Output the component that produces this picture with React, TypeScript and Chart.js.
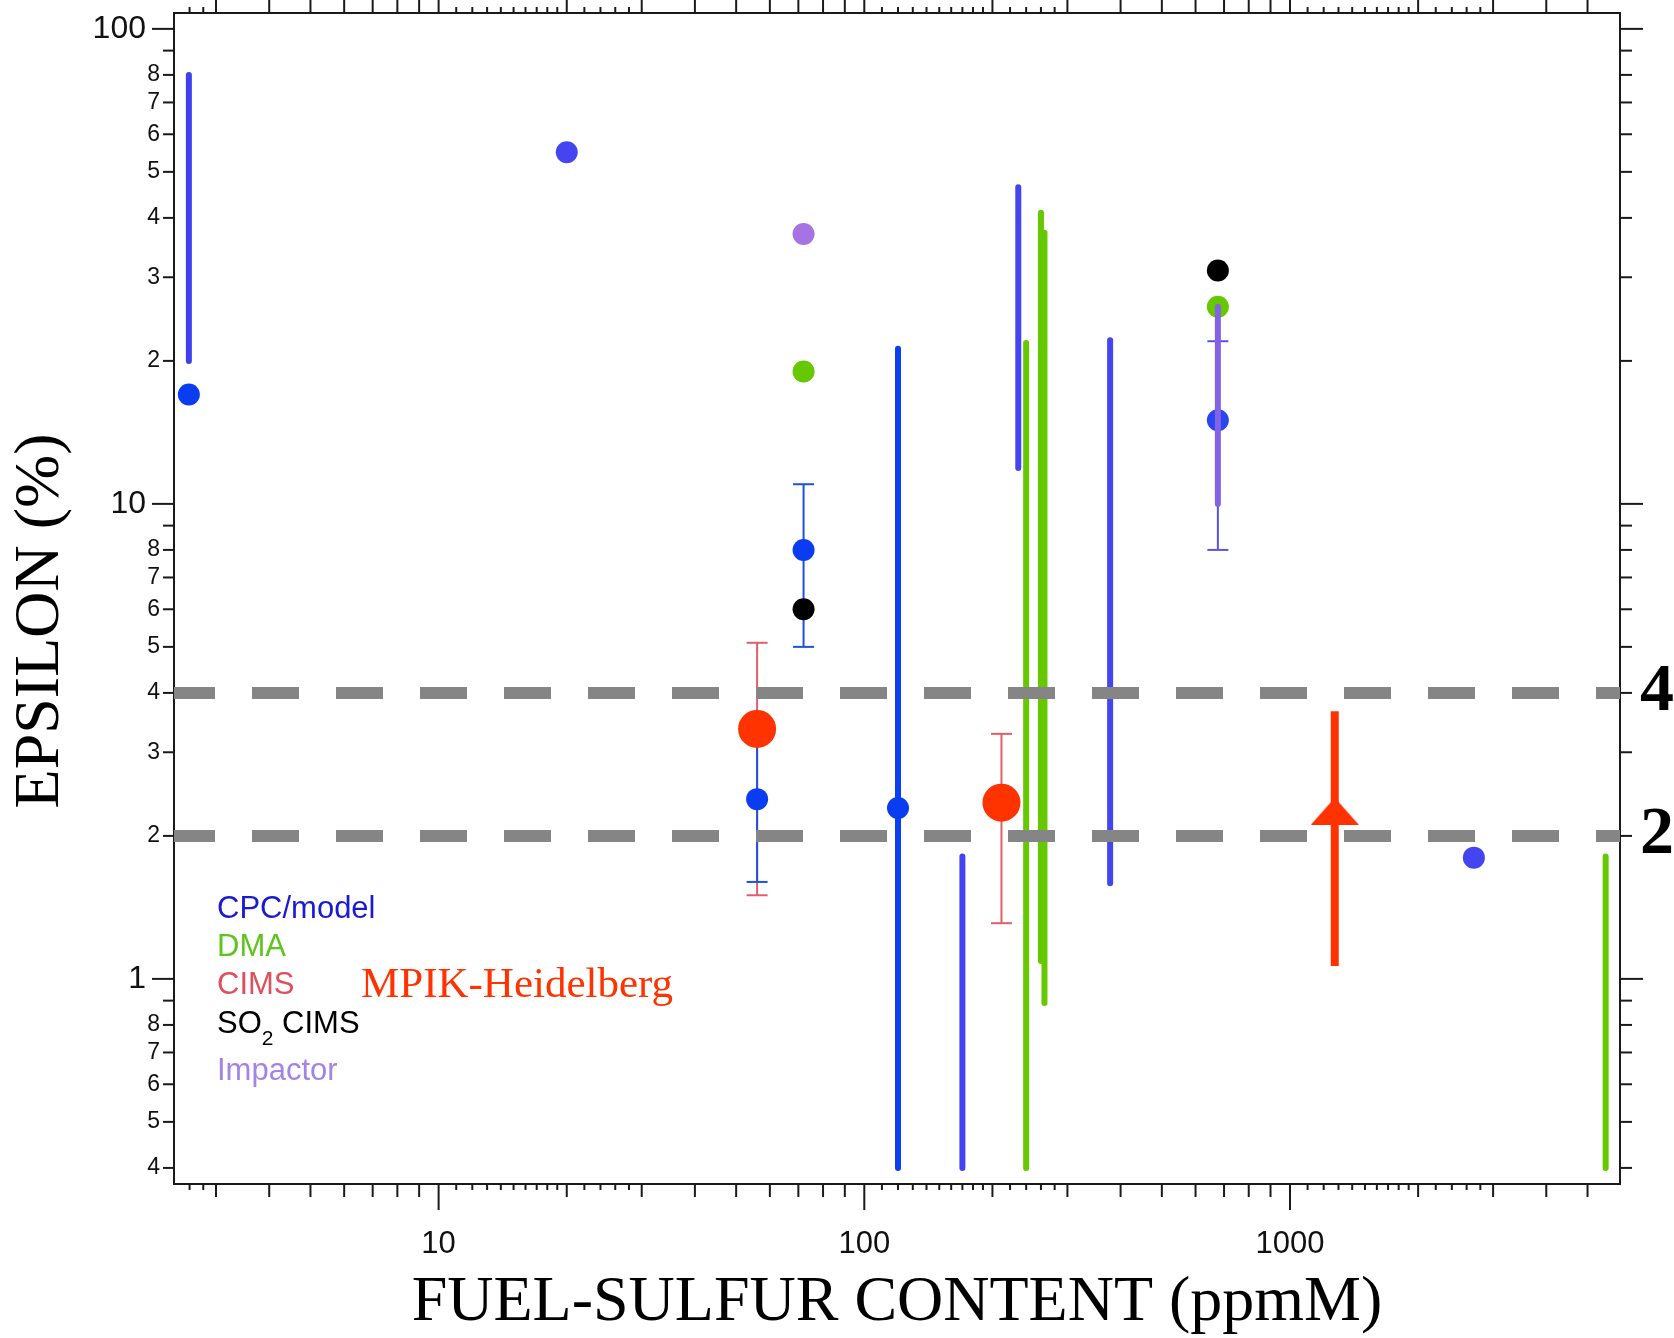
import React, { useEffect, useRef } from 'react';
import { Chart, registerables } from 'chart.js';

Chart.register(...registerables);
Chart.defaults.font.family = 'Liberation Sans';

// ---- axis ranges ----
const X_MIN = 2.39;
const X_MAX = 5960;
const Y_MIN = 0.37;
const Y_MAX = 108;

// ---- tick values / labels ----
const xMajorTicks = [10, 100, 1000];
const xMinorTicks = [3, 4, 5, 6, 7, 8, 9, 20, 30, 40, 50, 60, 70, 80, 90, 200, 300, 400, 500, 600, 700, 800, 900, 2000, 3000, 4000, 5000];
const xSmallTicks = [2.6, 2.8, 11, 12, 13, 14, 15, 16, 17, 18, 19, 22, 24, 26, 28, 110, 120, 130, 140, 150, 160, 170, 180, 190, 220, 240, 260, 280, 1100, 1200, 1300, 1400, 1500, 1600, 1700, 1800, 1900, 2200, 2400, 2600, 2800];
const xTickLabels = ['10', '100', '1000'];

const yMajorTicks = [1, 10, 100];
const yMajorLabels = ['1', '10', '100'];
const yMinorTicks = [0.4, 0.5, 0.6, 0.7, 0.8, 0.9, 2, 3, 4, 5, 6, 7, 8, 9, 20, 30, 40, 50, 60, 70, 80, 90];
const yMinorLabelTicks = [0.4, 0.5, 0.6, 0.7, 0.8, 2, 3, 4, 5, 6, 7, 8, 20, 30, 40, 50, 60, 70, 80];
const yMinorLabels = ['4', '5', '6', '7', '8', '2', '3', '4', '5', '6', '7', '8', '2', '3', '4', '5', '6', '7', '8'];
const rightLabelTicks = [2, 4];
const rightLabels = ['2', '4'];

// ---- CPC/model ----
const cpcPointX = [2.59, 20, 72, 56, 120, 677, 2704];
const cpcPointY = [17, 55, 8.0, 2.39, 2.29, 15, 1.8];
const cpcPointColors = ['#0a3cf2', '#4444f0', '#0a3cf2', '#0a3cf2', '#0a3cf2', '#2a46f0', '#4444f0'];
const cpcRangeX = [2.59, 120, 170, 230, 378];
const cpcRangeLow = [20, 0.4, 0.4, 11.9, 1.59];
const cpcRangeHigh = [80, 21.2, 1.81, 46.4, 22.1];
const cpcRangeColors = ['#3f3ff0', '#0a40f2', '#4444f0', '#4444f0', '#4444f0'];
const cpcErrX = [72, 56, 677];
const cpcErrLow = [5.0, 1.6, 8.0];
const cpcErrHigh = [11.0, 3.3, 22.0];
const cpcErrColors = ['#1e50e6', '#1e50e6', '#5555e0'];

// ---- DMA ----
const dmaPointX = [72, 677];
const dmaPointY = [19, 26];
const dmaRangeX = [240, 260, 265, 5515];
const dmaRangeLow = [0.4, 1.09, 0.89, 0.4];
const dmaRangeHigh = [21.8, 41, 37.2, 1.81];

// ---- CIMS ----
const cimsErrX = [56, 210];
const cimsErrLow = [1.5, 1.31];
const cimsErrHigh = [5.1, 3.28];

// ---- MPIK-Heidelberg ----
const mpikX = [56, 210];
const mpikY = [3.36, 2.35];
const mpikArrowX = [1274];
const mpikArrowLow = [1.065];
const mpikArrowHigh = [3.66];
const mpikArrowHead = [2.254];

// ---- SO2 CIMS ----
const so2X = [72, 677];
const so2Y = [6.0, 31];

// ---- Impactor ----
const impX = [72];
const impY = [37];
const impRangeX = [677];
const impRangeLow = [10];
const impRangeHigh = [26];

// ---- reference lines ----
const refLines = [4, 2];

const DMA_GREEN = '#66c800';
const MPIK_RED = '#ff3300';

const tickPlugin = {
  id: 'axisTicks',
  afterDraw(chart: any) {
    const ctx = chart.ctx;
    const xs = chart.scales.x;
    const ys = chart.scales.y;
    const a = chart.chartArea;
    ctx.save();
    ctx.strokeStyle = '#1a1a1a';
    ctx.lineWidth = 2;
    const v = (px: number, y1: number, y2: number) => {
      ctx.beginPath(); ctx.moveTo(px, y1); ctx.lineTo(px, y2); ctx.stroke();
    };
    const h = (py: number, x1: number, x2: number) => {
      ctx.beginPath(); ctx.moveTo(x1, py); ctx.lineTo(x2, py); ctx.stroke();
    };
    xMajorTicks.forEach((t) => { const p = xs.getPixelForValue(t); v(p, a.bottom, a.bottom + 26); v(p, a.top, a.top - 13); });
    xMinorTicks.forEach((t) => { const p = xs.getPixelForValue(t); v(p, a.bottom, a.bottom + 13); v(p, a.top, a.top - 13); });
    xSmallTicks.forEach((t) => {
      const p = xs.getPixelForValue(t);
      if (p > a.left + 2 && p < a.right - 2) { v(p, a.bottom, a.bottom + 6); v(p, a.top, a.top - 6); }
    });
    yMajorTicks.forEach((t) => { const p = ys.getPixelForValue(t); h(p, a.left - 22, a.left); h(p, a.right, a.right + 23); });
    yMinorTicks.forEach((t) => { const p = ys.getPixelForValue(t); h(p, a.left - 11, a.left); h(p, a.right, a.right + 12); });
    ctx.restore();
  },
};

const legendItems = [
  { text: 'CPC/model', color: '#1a1ad2' },
  { text: 'DMA', color: '#5ec41e' },
  { text: 'CIMS', color: '#e0505c' },
  { text: 'SO2 CIMS', color: '#000000' },
  { text: 'Impactor', color: '#a483e6' },
];
const legendBaselines = [918, 956, 994, 1033, 1080];

const textPlugin = {
  id: 'annotText',
  afterDraw(chart: any) {
    const ctx = chart.ctx;
    const a = chart.chartArea;
    const x0 = a.left + 43;
    ctx.save();
    ctx.textAlign = 'left';
    ctx.textBaseline = 'alphabetic';
    legendItems.forEach((it, i) => {
      const yb = legendBaselines[i];
      ctx.fillStyle = it.color;
      ctx.font = '31px "Liberation Sans"';
      if (it.text === 'SO2 CIMS') {
        ctx.fillText('SO', x0, yb);
        const w1 = ctx.measureText('SO').width;
        ctx.font = '21px "Liberation Sans"';
        ctx.fillText('2', x0 + w1, yb + 12);
        const w2 = ctx.measureText('2').width;
        ctx.font = '31px "Liberation Sans"';
        ctx.fillText(' CIMS', x0 + w1 + w2, yb);
      } else {
        ctx.fillText(it.text, x0, yb);
      }
    });
    ctx.fillStyle = MPIK_RED;
    ctx.font = '43px "Liberation Serif"';
    ctx.fillText('MPIK-Heidelberg', a.left + 187, 997);
    ctx.restore();
  },
};

function rangeDataset(x: number, lo: number, hi: number, color: string, width: number, order: number, cap = 'round') {
  return {
    data: [{ x, y: lo }, { x, y: hi }],
    showLine: true,
    borderColor: color,
    borderWidth: width,
    borderCapStyle: cap,
    pointRadius: 0,
    pointHoverRadius: 0,
    fill: false,
    order,
  };
}

function errDataset(x: number, lo: number, hi: number, color: string, order: number) {
  return {
    data: [{ x, y: lo }, { x, y: hi }],
    showLine: true,
    borderColor: color,
    borderWidth: 2,
    pointStyle: 'line',
    pointRadius: 10.5,
    pointHoverRadius: 10.5,
    pointBorderWidth: 2,
    pointBorderColor: color,
    pointBackgroundColor: color,
    fill: false,
    order,
  };
}

function pointDataset(xs: number[], ys: number[], colors: string | string[], radius: number, order: number) {
  return {
    data: xs.map((x, i) => ({ x, y: ys[i] })),
    showLine: false,
    pointRadius: radius,
    pointHoverRadius: radius,
    pointBackgroundColor: colors,
    pointBorderWidth: 0,
    order,
  };
}

export default function App() {
  const ref = useRef<HTMLCanvasElement | null>(null);

  useEffect(() => {
    if (!ref.current) return;

    const head = document.createElement('canvas');
    head.width = 48;
    head.height = 27;
    const hc = head.getContext('2d')!;
    hc.fillStyle = MPIK_RED;
    hc.beginPath();
    hc.moveTo(24, 0);
    hc.lineTo(48, 27);
    hc.lineTo(0, 27);
    hc.closePath();
    hc.fill();

    const datasets: any[] = [];
    refLines.forEach((v) => {
      datasets.push({
        data: [{ x: X_MIN, y: v }, { x: X_MAX, y: v }],
        showLine: true,
        borderColor: '#858585',
        borderWidth: 12,
        borderDash: [47, 37],
        borderDashOffset: 6,
        borderCapStyle: 'butt',
        pointRadius: 0,
        pointHoverRadius: 0,
        fill: false,
        order: 0,
      });
    });
    datasets.push(pointDataset(mpikX, mpikY, MPIK_RED, 19, 1));
    datasets.push({
      data: mpikArrowX.map((x, i) => ({ x, y: mpikArrowHead[i] })),
      showLine: false,
      pointStyle: head,
      pointRadius: 10,
      pointHoverRadius: 10,
      order: 2,
    });
    mpikArrowX.forEach((x, i) => datasets.push(rangeDataset(x, mpikArrowLow[i], mpikArrowHigh[i], MPIK_RED, 8, 3, 'butt')));
    impRangeX.forEach((x, i) => datasets.push(rangeDataset(x, impRangeLow[i], impRangeHigh[i], '#8462e6', 6, 4)));
    datasets.push(pointDataset(cpcPointX, cpcPointY, cpcPointColors, 11, 5));
    datasets.push(pointDataset(dmaPointX, dmaPointY, DMA_GREEN, 11, 5));
    datasets.push(pointDataset(so2X, so2Y, '#000000', 11, 5));
    datasets.push(pointDataset(impX, impY, '#a674e2', 11, 5));
    cpcErrX.forEach((x, i) => datasets.push(errDataset(x, cpcErrLow[i], cpcErrHigh[i], cpcErrColors[i], 6)));
    cimsErrX.forEach((x, i) => datasets.push(errDataset(x, cimsErrLow[i], cimsErrHigh[i], '#e0606a', 7)));
    cpcRangeX.forEach((x, i) => datasets.push(rangeDataset(x, cpcRangeLow[i], cpcRangeHigh[i], cpcRangeColors[i], 6, 8)));
    dmaRangeX.forEach((x, i) => datasets.push(rangeDataset(x, dmaRangeLow[i], dmaRangeHigh[i], DMA_GREEN, 6, 8)));

    const zeroPad = (s: any) => { s.paddingLeft = 0; s.paddingRight = 0; s.paddingTop = 0; s.paddingBottom = 0; };

    const chart = new Chart(ref.current, {
      type: 'scatter',
      data: { datasets },
      plugins: [tickPlugin, textPlugin],
      options: {
        animation: false,
        responsive: false,
        maintainAspectRatio: false,
        events: [],
        layout: { padding: 0, autoPadding: false },
        plugins: { legend: { display: false }, tooltip: { enabled: false } },
        scales: {
          x: {
            type: 'logarithmic',
            position: 'bottom',
            min: X_MIN,
            max: X_MAX,
            afterBuildTicks: (s: any) => { s.ticks = xMajorTicks.map((value) => ({ value })); },
            afterFit: (s: any) => { s.height = 154; zeroPad(s); },
            ticks: {
              autoSkip: false,
              maxRotation: 0,
              minRotation: 0,
              padding: 42,
              color: '#111',
              font: { size: 31, family: 'Liberation Sans' },
              callback: (_v: any, i: number) => xTickLabels[i],
            },
            grid: { display: false, drawTicks: false },
            border: { display: true, color: '#1a1a1a', width: 2 },
            title: {
              display: true,
              text: 'FUEL-SULFUR CONTENT (ppmM)',
              color: '#000',
              font: { size: 64, family: 'Liberation Serif', lineHeight: 1 },
              padding: { top: 0, bottom: 3 },
            },
          },
          xTop: {
            type: 'logarithmic',
            position: 'top',
            min: X_MIN,
            max: X_MAX,
            afterFit: (s: any) => { s.height = 13; zeroPad(s); },
            ticks: { display: false },
            grid: { display: false, drawTicks: false },
            border: { display: true, color: '#1a1a1a', width: 2 },
          },
          y: {
            type: 'logarithmic',
            position: 'left',
            weight: 10,
            min: Y_MIN,
            max: Y_MAX,
            afterBuildTicks: (s: any) => { s.ticks = yMajorTicks.map((value) => ({ value })); },
            afterFit: (s: any) => { s.width = 147; zeroPad(s); },
            ticks: {
              autoSkip: false,
              padding: 1,
              color: '#111',
              font: { size: 32, family: 'Liberation Sans' },
              callback: (_v: any, i: number) => yMajorLabels[i],
            },
            grid: { display: false, drawTicks: false },
            border: { display: false },
            title: {
              display: true,
              text: 'EPSILON (%)  \u2009',
              color: '#000',
              font: { size: 64, family: 'Liberation Serif', lineHeight: 1 },
              padding: { top: 9, bottom: 0 },
            },
          },
          yMinor: {
            type: 'logarithmic',
            position: 'left',
            weight: 0,
            min: Y_MIN,
            max: Y_MAX,
            afterBuildTicks: (s: any) => { s.ticks = yMinorLabelTicks.map((value) => ({ value })); },
            afterFit: (s: any) => { s.width = 27; zeroPad(s); },
            ticks: {
              autoSkip: false,
              padding: 14,
              color: '#111',
              font: { size: 23, family: 'Liberation Sans' },
              callback: (_v: any, i: number) => yMinorLabels[i],
            },
            grid: { display: false, drawTicks: false },
            border: { display: true, color: '#1a1a1a', width: 2 },
          },
          yRight: {
            type: 'logarithmic',
            position: 'right',
            min: Y_MIN,
            max: Y_MAX,
            afterBuildTicks: (s: any) => { s.ticks = rightLabelTicks.map((value) => ({ value })); },
            afterFit: (s: any) => { s.width = 54; zeroPad(s); },
            ticks: {
              autoSkip: false,
              padding: 20,
              color: '#000',
              font: { size: 68, family: 'Liberation Serif', weight: 'bold' },
              callback: (_v: any, i: number) => rightLabels[i],
            },
            grid: { display: false, drawTicks: false },
            border: { display: true, color: '#1a1a1a', width: 2 },
          },
        },
      } as any,
    });
    return () => chart.destroy();
  }, []);

  return (
    <div style={{ position: 'absolute', left: 0, top: 0, width: 1674, height: 1338, background: '#fff' }}>
      <canvas ref={ref} width={1674} height={1338} style={{ display: 'block' }} />
    </div>
  );
}
